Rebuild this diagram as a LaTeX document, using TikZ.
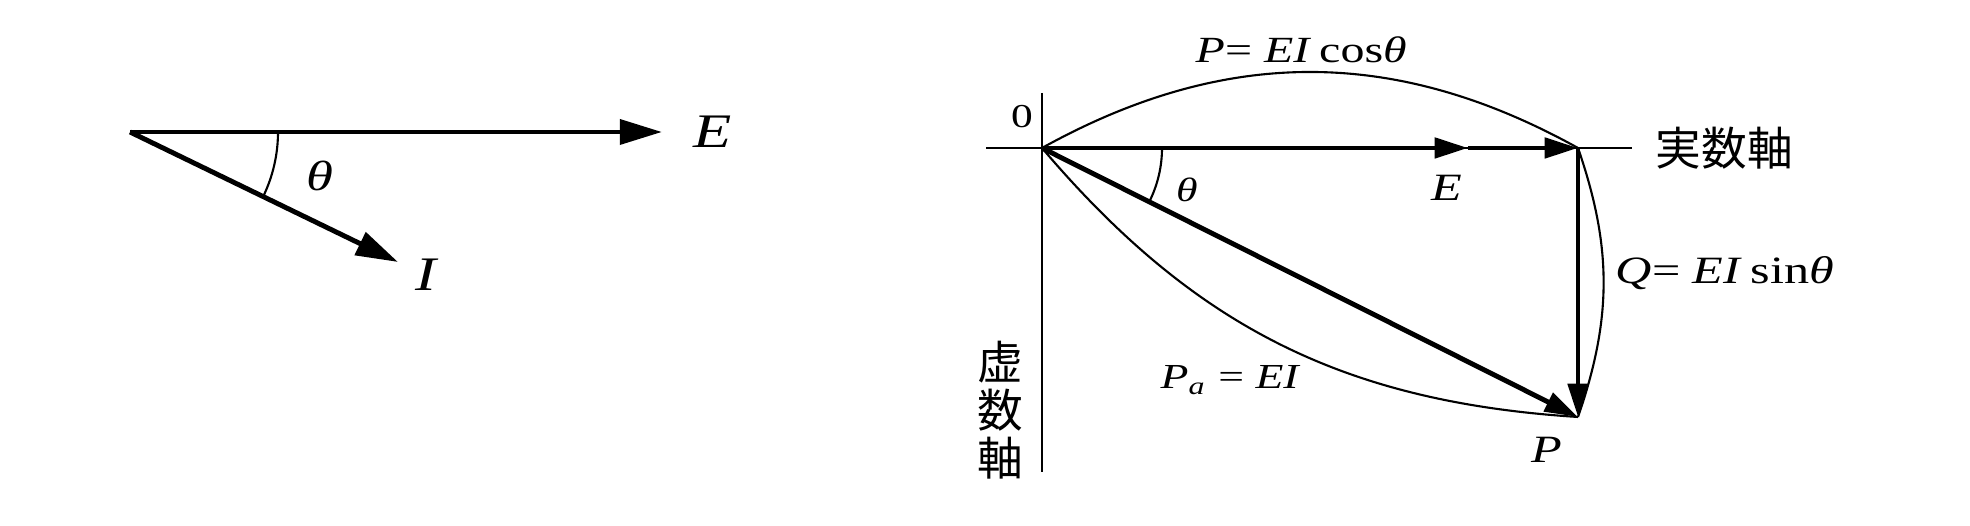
\documentclass[tikz,border=0pt]{standalone}
\usepackage{fontspec}
\setmainfont{Liberation Serif}
\newfontfamily\jpfont{Noto Sans CJK JP}
\usetikzlibrary{arrows.meta, calc}
\newcommand{\hwide}[1]{\scalebox{1.3}[1]{#1}}
\tikzset{
	bigvec/.style={line width=1.4pt, -{Triangle[length=12pt, width=7pt]}},
	vec/.style={line width=1.4pt, -{Triangle[length=9.5pt, width=5.7pt]}},
	axisline/.style={line width=0.6pt},
	lbl/.style={inner sep=0pt, font=\fontsize{11}{13}\selectfont},
	biglbl/.style={inner sep=0pt, font=\fontsize{13.7}{16}\selectfont},
	jplbl/.style={inner sep=0pt, align=center, font=\jpfont\fontsize{13}{13.6}\selectfont},
}

\begin{document}
\begin{tikzpicture}[x=0.1mm, y=0.1mm]
	\useasboundingbox (0,0) rectangle (1970,526);
	% left: E and I
	\coordinate (o1) at (130,394);
	\coordinate (e1) at (662,394);
	\coordinate (i1) at (398,264);
	\draw [bigvec] (o1) -- (e1);
	\draw [bigvec] (o1) -- (i1);
	\draw [axisline] ($(o1)+(148,0)$) arc [start angle=0, end angle=-25.9, radius=148];
	\path (713,394) node (labE1) [biglbl] {\hwide{\textit{E}}};
	\path (427,251) node (labI1) [biglbl] {\hwide{\textit{I}}};
	\path (320,350) node (labT1) [inner sep=0pt, font=\fontsize{12}{14}\selectfont] {\hwide{\textit{θ}}};
	% right: power diagram
	\coordinate (o2) at (1042,378);
	\coordinate (e2) at (1468,378);
	\coordinate (a) at (1578,378);
	\coordinate (p) at (1578,109);
	\coordinate (xl) at (986,378);
	\coordinate (xr) at (1632,378);
	\coordinate (yt) at (1042,433);
	\coordinate (yb) at (1042,54);
	\draw [axisline] (xl) -- (xr);
	\draw [axisline] (yt) -- (yb);
	\draw [axisline] (o2) to [bend left=29] (a);
	\draw [axisline] (a) to [bend left=19] (p);
	\draw [axisline] (o2) to [bend right=23] (p);
	\draw [vec] (o2) -- (e2);
	\draw [vec] (e2) -- (a);
	\draw [vec] (a) -- (p);
	\draw [vec] (o2) -- (p);
	\draw [axisline] ($(o2)+(120,0)$) arc [start angle=0, end angle=-26.6, radius=120];
	\path (1022,409) node (lab0) [inner sep=0pt, font=\fontsize{9.5}{11}\selectfont] {\hwide{0}};
	\path (1447,338) node (labE2) [lbl] {\hwide{\textit{E}}};
	\path (1187,336) node (labT2) [inner sep=0pt, font=\fontsize{9.6}{11}\selectfont] {\hwide{\textit{θ}}};
	\path (1547,76) node (labP) [lbl] {\hwide{\textit{P}}};
	\path (1195,476) node (labPcos) [lbl, anchor=west, font=\fontsize{10.5}{12}\selectfont] {\hwide{\textit{P}= \textit{EI}\,cos\textit{θ}}};
	\path (1615,253) node (labQ) [lbl, anchor=west] {\hwide{\textit{Q}= \textit{EI}\,sin\textit{θ}}};
	\path (1160,146) node (labPa) [lbl, anchor=west, font=\fontsize{10}{12}\selectfont] {\hwide{\textit{P}\textsubscript{\textit{a}} = \textit{EI}}};
	\path (1655,378) node (labRe) [jplbl, anchor=west] {実数軸};
	\path (1000,116) node (labIm) [jplbl] {虚\\数\\軸};
\end{tikzpicture}
\end{document}
